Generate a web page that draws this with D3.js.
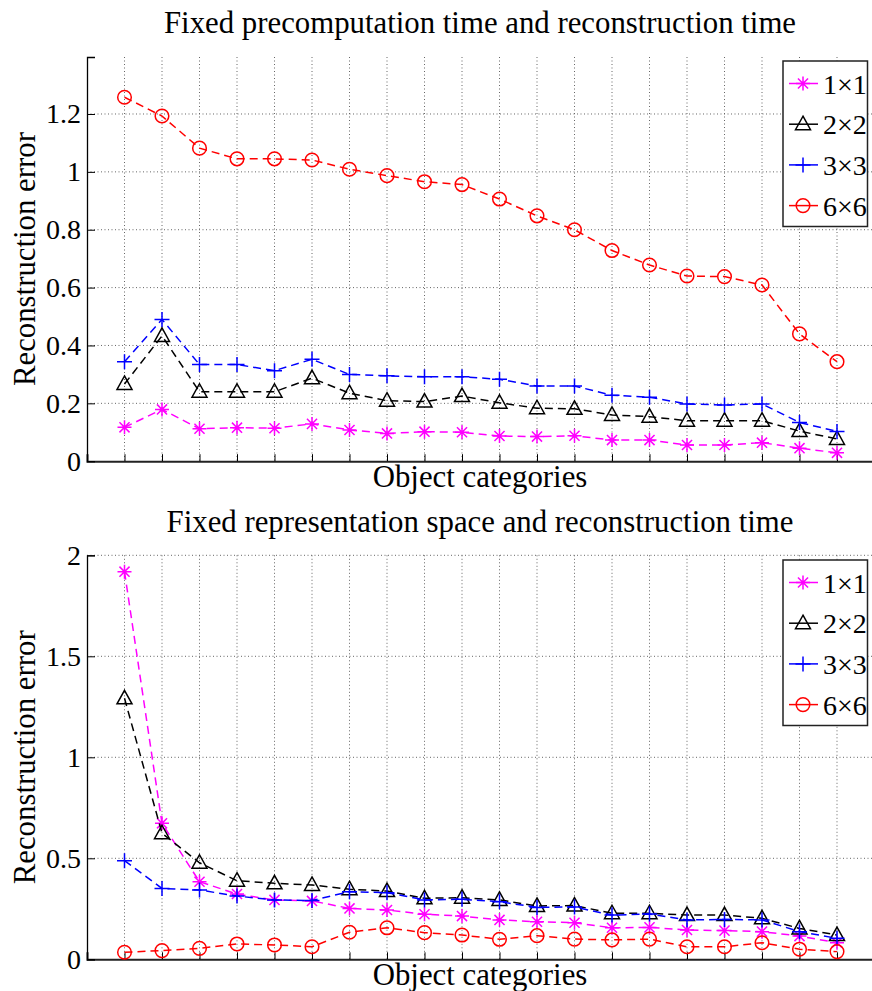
<!DOCTYPE html>
<html>
<head>
<meta charset="utf-8">
<script src="https://cdn.jsdelivr.net/npm/d3@7"></script>
<style>
  body { margin: 0; background: #fff; }
  svg { display: block; }
  svg text { font-family: "Liberation Serif", "Times New Roman", serif; fill: #000; }
</style>
</head>
<body>
<svg id="chart" width="872" height="991"></svg>
<script>
// object categories (x positions 1..20, no labels)
let categories = d3.range(1, 21)

let seriesNames = ['1\u00d71', '2\u00d72', '3\u00d73', '6\u00d76']

// top panel: fixed precomputation time and reconstruction time
let top1x1 = [0.117, 0.179, 0.112, 0.116, 0.114, 0.129, 0.108, 0.096, 0.102, 0.100,
              0.087, 0.085, 0.088, 0.073, 0.073, 0.056, 0.056, 0.064, 0.045, 0.029]
let top2x2 = [0.267, 0.433, 0.240, 0.240, 0.240, 0.287, 0.235, 0.209, 0.206, 0.225,
              0.202, 0.183, 0.181, 0.160, 0.154, 0.140, 0.140, 0.140, 0.104, 0.077]
let top3x3 = [0.344, 0.490, 0.334, 0.334, 0.313, 0.352, 0.300, 0.295, 0.292, 0.292,
              0.283, 0.260, 0.260, 0.228, 0.221, 0.198, 0.194, 0.198, 0.134, 0.103]
let top6x6 = [1.258, 1.193, 1.082, 1.045, 1.045, 1.041, 1.009, 0.987, 0.966, 0.956,
              0.906, 0.848, 0.800, 0.728, 0.678, 0.640, 0.638, 0.609, 0.440, 0.344]
let topTicks = [0, 0.2, 0.4, 0.6, 0.8, 1, 1.2]

// bottom panel: fixed representation space and reconstruction time
let bot1x1 = [1.919, 0.673, 0.384, 0.323, 0.294, 0.289, 0.252, 0.244, 0.223, 0.214,
              0.195, 0.186, 0.181, 0.156, 0.158, 0.145, 0.142, 0.137, 0.115, 0.082]
let bot2x2 = [1.292, 0.624, 0.478, 0.389, 0.376, 0.368, 0.347, 0.338, 0.302, 0.305,
              0.294, 0.264, 0.266, 0.228, 0.228, 0.219, 0.219, 0.203, 0.153, 0.120]
let bot3x3 = [0.488, 0.351, 0.343, 0.313, 0.294, 0.291, 0.335, 0.330, 0.294, 0.297,
              0.285, 0.257, 0.259, 0.219, 0.224, 0.195, 0.197, 0.195, 0.137, 0.104]
let bot6x6 = [0.035, 0.043, 0.054, 0.076, 0.071, 0.062, 0.134, 0.156, 0.132, 0.120,
              0.099, 0.117, 0.100, 0.096, 0.100, 0.062, 0.062, 0.082, 0.050, 0.038]
let botTicks = [0, 0.5, 1, 1.5, 2]

let colors = ['#ff00ff', '#000000', '#0000ff', '#ff0000']
let markers = ['star', 'triangle', 'plus', 'circle']

let serif = '"Liberation Serif", "Times New Roman", serif'
let svg = d3.select('#chart')

// marker shapes, drawn around 0,0
let markerPath = (type) => {
    if (type === 'star') {
        let r = 7, d = r * 0.72
        return `M${-r},0L${r},0M0,${-r}L0,${r}M${-d},${-d}L${d},${d}M${-d},${d}L${d},${-d}`
    } else if (type === 'plus') {
        let r = 7.5
        return `M${-r},0L${r},0M0,${-r}L0,${r}`
    } else {
        return 'M0,-8L7.5,5.5L-7.5,5.5Z'
    }
}

let drawMarker = (sel, type, color) => {
    if (type === 'circle') {
        sel.append('circle').attr('r', 6.8)
            .attr('fill', 'none').attr('stroke', color).attr('stroke-width', 1.5)
    } else {
        sel.append('path').attr('d', markerPath(type))
            .attr('fill', 'none').attr('stroke', color).attr('stroke-width', 1.5)
    }
}

let drawPanel = (cfg) => {
    let x = d3.scaleLinear().domain([0, 21]).range([87, 874.5])
    let y = d3.scaleLinear().domain(cfg.yDomain).range([cfg.bottom, cfg.top])
    let g = svg.append('g')

    // grid
    g.append('g').selectAll('line').data(categories).enter().append('line')
        .attr('x1', d => x(d)).attr('x2', d => x(d))
        .attr('y1', cfg.top).attr('y2', cfg.bottom)
        .attr('stroke', '#666').attr('stroke-width', 1).attr('stroke-dasharray', '1,2.5')
    g.append('g').selectAll('line').data(cfg.ticks.filter(t => t > 0)).enter().append('line')
        .attr('x1', 87).attr('x2', 874.5)
        .attr('y1', d => y(d)).attr('y2', d => y(d))
        .attr('stroke', '#666').attr('stroke-width', 1).attr('stroke-dasharray', '1,2.5')

    // axes
    let xAxis = g.append('g').attr('transform', `translate(0,${cfg.bottom})`)
        .call(d3.axisBottom(x).tickValues(categories).tickSize(-7).tickFormat(''))
    xAxis.select('.domain').attr('stroke', '#222').attr('stroke-width', 2)
    xAxis.selectAll('.tick line').attr('stroke', '#000')

    let yAxis = g.append('g').attr('transform', 'translate(87,0)')
        .call(d3.axisLeft(y).tickValues(cfg.ticks).tickSize(-8).tickPadding(6)
            .tickFormat(d3.format('')))
    yAxis.attr('font-family', serif).attr('font-size', 28)
    yAxis.select('.domain').attr('stroke', '#000').attr('stroke-width', 1.3)
    yAxis.selectAll('.tick text').attr('fill', '#000')

    // series
    let line = d3.line().x((d, i) => x(categories[i])).y(d => y(d))
    cfg.series.forEach((vals, k) => {
        g.append('path').datum(vals).attr('d', line)
            .attr('fill', 'none').attr('stroke', colors[k]).attr('stroke-width', 1.5)
            .attr('stroke-dasharray', '8,5')
        g.append('g').selectAll('g').data(vals).enter().append('g')
            .attr('transform', (d, i) => `translate(${x(categories[i])},${y(d)})`)
            .each(function () { drawMarker(d3.select(this), markers[k], colors[k]) })
    })

    // titles (title and labels are 1.1 x axis font)
    g.append('text').attr('x', 480).attr('y', cfg.titleY).attr('text-anchor', 'middle')
        .attr('font-size', 30.8).text(cfg.title)
    g.append('text').attr('x', 480).attr('y', cfg.bottom + 25.5).attr('text-anchor', 'middle')
        .attr('font-size', 30.8).text('Object categories')
    g.append('text')
        .attr('transform', `translate(35,${(cfg.top + cfg.bottom) / 2}) rotate(-90)`)
        .attr('text-anchor', 'middle').attr('font-size', 30.8).text('Reconstruction error')

    // legend
    let lg = g.append('g').attr('transform', `translate(783,${cfg.legendTop})`)
    lg.append('rect').attr('width', 84.5).attr('height', 165.5)
        .attr('fill', '#fff').attr('stroke', '#222').attr('stroke-width', 1.5)
    seriesNames.forEach((name, k) => {
        let row = lg.append('g').attr('transform', `translate(0,${22.5 + k * 40.7})`)
        row.append('line').attr('x1', 6).attr('x2', 36).attr('y1', 0).attr('y2', 0)
            .attr('stroke', colors[k]).attr('stroke-width', 1.5).attr('stroke-dasharray', '29,4,1')
        drawMarker(row.append('g').attr('transform', 'translate(20,0)'), markers[k], colors[k])
        row.append('text').attr('x', 40).attr('y', 10).attr('font-size', 28).text(name)
    })
}

drawPanel({
    title: 'Fixed precomputation time and reconstruction time',
    titleY: 33,
    top: 57, bottom: 461.2, yDomain: [0, 1.397],
    ticks: topTicks,
    series: [top1x1, top2x2, top3x3, top6x6],
    legendTop: 61
})

drawPanel({
    title: 'Fixed representation space and reconstruction time',
    titleY: 531.7,
    top: 555.3, bottom: 959.3, yDomain: [0, 2],
    ticks: botTicks,
    series: [bot1x1, bot2x2, bot3x3, bot6x6],
    legendTop: 560
})
</script>
</body>
</html>
